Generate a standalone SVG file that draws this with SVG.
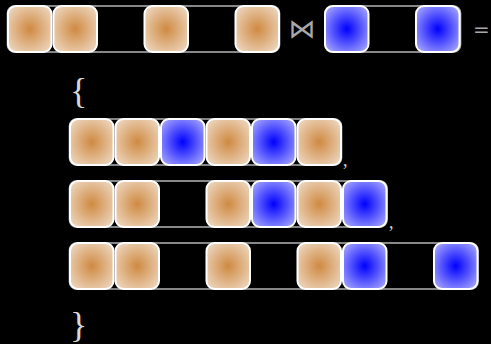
<svg xmlns="http://www.w3.org/2000/svg" width="491" height="344" viewBox="0 0 491 344">
<defs>
<radialGradient id="gb" cx="0.5" cy="0.5" r="0.65">
<stop offset="0" stop-color="#cf8a42"/>
<stop offset="1" stop-color="#eed8c2"/>
</radialGradient>
<radialGradient id="gu" cx="0.5" cy="0.5" r="0.65">
<stop offset="0" stop-color="#0000ff"/>
<stop offset="1" stop-color="#a8a8ff"/>
</radialGradient>
</defs>
<style>
.box{fill:none;stroke:#b4b4b4;stroke-width:1.6}
.b{fill:url(#gb);stroke:#ffffff;stroke-width:2}
.u{fill:url(#gu);stroke:#ffffff;stroke-width:2}
.t{font-family:"Liberation Serif",serif;fill:#d8d8d8}
.s{font-family:"DejaVu Sans",sans-serif;fill:#a8a8a8}
</style>
<rect width="491" height="344" fill="#000"/>
<g id="left">
<rect class="box" x="7.5" y="6" width="272" height="46" rx="7"/>
<rect class="b" x="8" y="6" width="43.5" height="46" rx="8"/>
<rect class="b" x="53.5" y="6" width="43.5" height="46" rx="8"/>
<rect class="b" x="144.5" y="6" width="43.5" height="46" rx="8"/>
<rect class="b" x="235.5" y="6" width="43.5" height="46" rx="8"/>
</g>
<g id="op"><text class="s" x="302" y="38" font-size="27" text-anchor="middle">⋈</text></g>
<g id="right">
<rect class="box" x="325" y="6" width="135.5" height="46" rx="7"/>
<rect class="u" x="325" y="6" width="43.5" height="46" rx="8"/>
<rect class="u" x="416" y="6" width="43.5" height="46" rx="8"/>
</g>
<g id="eq"><text class="s" x="473" y="36" font-size="20">=</text></g>
<g id="open"><text class="t" x="70" y="103" font-size="36">{</text></g>
<g id="r1">
<rect class="box" x="69.5" y="119" width="272" height="46" rx="7"/>
<rect class="b" x="70" y="119" width="43.5" height="46" rx="8"/>
<rect class="b" x="115.5" y="119" width="43.5" height="46" rx="8"/>
<rect class="u" x="161" y="119" width="43.5" height="46" rx="8"/>
<rect class="b" x="206.5" y="119" width="43.5" height="46" rx="8"/>
<rect class="u" x="252" y="119" width="43.5" height="46" rx="8"/>
<rect class="b" x="297.5" y="119" width="43.5" height="46" rx="8"/>
<text class="t" x="343" y="166" font-size="18">,</text>
</g>
<g id="r2">
<rect class="box" x="69.5" y="181" width="317.5" height="46" rx="7"/>
<rect class="b" x="70" y="181" width="43.5" height="46" rx="8"/>
<rect class="b" x="115.5" y="181" width="43.5" height="46" rx="8"/>
<rect class="b" x="206.5" y="181" width="43.5" height="46" rx="8"/>
<rect class="u" x="252" y="181" width="43.5" height="46" rx="8"/>
<rect class="b" x="297.5" y="181" width="43.5" height="46" rx="8"/>
<rect class="u" x="343" y="181" width="43.5" height="46" rx="8"/>
<text class="t" x="389" y="228" font-size="18">,</text>
</g>
<g id="r3">
<rect class="box" x="69.5" y="243" width="408.5" height="46" rx="7"/>
<rect class="b" x="70" y="243" width="43.5" height="46" rx="8"/>
<rect class="b" x="115.5" y="243" width="43.5" height="46" rx="8"/>
<rect class="b" x="206.5" y="243" width="43.5" height="46" rx="8"/>
<rect class="b" x="297.5" y="243" width="43.5" height="46" rx="8"/>
<rect class="u" x="343" y="243" width="43.5" height="46" rx="8"/>
<rect class="u" x="434" y="243" width="43.5" height="46" rx="8"/>
</g>
<g id="close"><text class="t" x="70" y="337" font-size="36">}</text></g>
</svg>
